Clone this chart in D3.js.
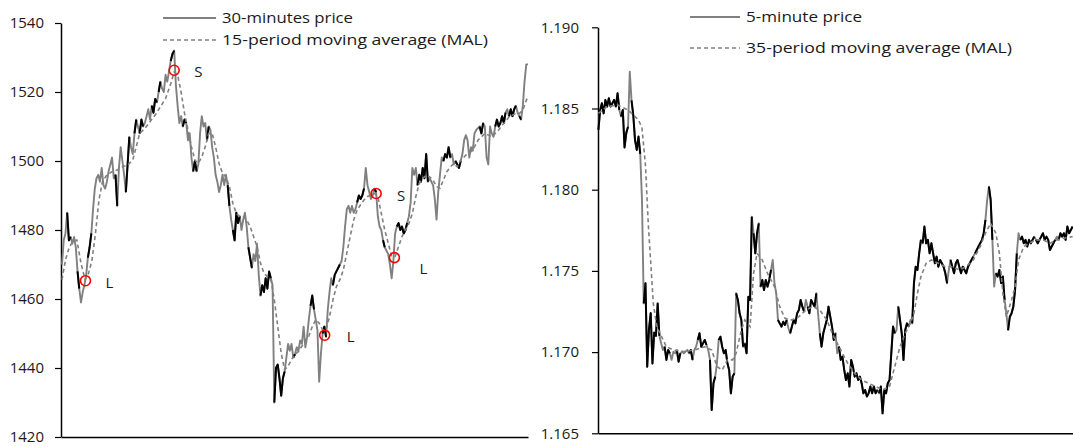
<!DOCTYPE html>
<html>
<head>
<meta charset="utf-8">
<script src="https://cdn.jsdelivr.net/npm/d3@7"></script>
<style>
  body { margin: 0; background: #fff; }
  svg text { font-family: "Open Sans", "DejaVu Sans", sans-serif; }
</style>
</head>
<body>
<svg id="chart" width="1073" height="447"></svg>
<script>
// ---- left panel data: 30-minute price and 15-period MA ----
var leftPrice = [
  1470,1477,1479,1485,1477,1478,1476,1478,1475,1468,1463,1459,1462,1464,1467,1472,1475,1479,1486,1492,
  1495,1496,1494,1498,1493,1492,1494,1497,1499,1501,1495,1496,1487,1498,1504,1500,1496,1491,1499,1507,
  1504,1502,1508,1512,1510,1508,1512,1510,1511,1513,1515,1512,1516,1514,1518,1517,1520,1523,1521,1520,
  1525,1523,1526,1529,1531,1532,1522,1516,1511,1513,1510,1512,1511,1506,1508,1501,1497,1500,1497,1499,
  1508,1513,1510,1511,1506,1510,1509,1504,1501,1496,1494,1491,1493,1496,1493,1496,1493,1487,1483,1480,
  1477,1485,1482,1484,1480,1483,1485,1481,1475,1472,1469,1473,1471,1476,1467,1461,1464,1462,1466,1463,
  1468,1466,1464,1430,1440,1441,1437,1432,1437,1439,1443,1447,1445,1447,1443,1444,1446,1445,1448,1447,
  1452,1446,1449,1454,1458,1461,1457,1454,1451,1436,1444,1450,1452,1449,1457,1462,1466,1464,1467,1468,
  1469,1470,1471,1475,1481,1486,1487,1485,1487,1485,1486,1488,1490,1489,1490,1492,1498,1493,1491,1489,
  1490,1492,1491,1484,1481,1480,1477,1475,1474,1473,1470,1466,1471,1479,1481,1482,1480,1481,1479,1480,
  1482,1484,1488,1498,1496,1498,1493,1496,1494,1498,1495,1502,1494,1495,1494,1493,1489,1483,1491,1496,
  1501,1500,1502,1501,1504,1501,1502,1499,1500,1499,1498,1500,1502,1506,1507.5,1506,1501,1504,1503,1508,
  1509,1509.5,1510,1508,1511,1510,1501,1499,1510,1508,1507,1510,1512,1510,1511,1513,1511,1514,1515,1513,
  1515,1513,1515,1516,1514,1513,1512,1516,1523,1528,1528
];
// [period, value]
var leftMA = [
  [0,1465.6],[2,1471.3],[4,1474.7],[6,1476.6],[8.6,1477.1],[11,1470.4],[13.4,1465.6],[15.4,1467.5],
  [17.4,1471.3],[19.4,1479],[21.4,1488.7],[23.4,1494],[26,1496],[29,1496.9],[32,1497.4],[35,1498.3],
  [38,1498.8],[41,1500.3],[43,1504.1],[45,1508],[48,1509.4],[51,1511.4],[54,1513.3],[57,1515.7],
  [60,1518.1],[63,1522.4],[65,1525.8],[67,1524.9],[69,1520],[71,1513.8],[73,1509],[75,1504.1],
  [77,1500.3],[79,1499.3],[81,1501.2],[83,1504.1],[85,1508],[87,1508],[89,1504.1],[91,1499.3],
  [93,1496.4],[95,1495.4],[97,1492.6],[99,1487.7],[101,1484.8],[103,1483.9],[105,1483.9],[107,1482.9],
  [109,1481],[111,1478.1],[113,1475.2],[115,1470.4],[117,1467.5],[119,1466.5],[121,1465.6],[123,1459.8],
  [125,1452],[127,1444.3],[129,1439.5],[131,1440.5],[133,1442.5],[135,1443.9],[137,1444.8],[139,1446.3],
  [141,1447.7],[143,1449.2],[145,1452],[147,1454],[149,1453],[151,1451.1],[153,1451.1],[155,1454.9],
  [157,1459.8],[159,1463.6],[161,1465.6],[163,1468.4],[165,1473.3],[167,1478.1],[169,1482.9],[171,1485.8],
  [173,1487.3],[175,1488.7],[177,1489.7],[179,1490.1],[181,1490.6],[183,1489.7],[185,1484.8],[187,1480],
  [189,1476.2],[191,1472.3],[193,1472.3],[195,1475.2],[197,1478.1],[199,1480],[201,1481.9],[203,1484.8],
  [205,1489.7],[207,1493.5],[209,1494.9],[211,1495.9],[213,1495.4],[215,1494.5],[217,1492.6],[219,1492.1],
  [221,1494.5],[223,1496.9],[225,1498.3],[227,1499.3],[229,1498.3],[231,1500.3],[233,1501.2],[235,1502.2],
  [237,1502.7],[239,1504.1],[241,1506],[243,1507],[245,1508],[247,1507.5],[249,1507],[251,1508],
  [253,1509],[255,1510.4],[257,1511.4],[259,1512.8],[261,1513.3],[263,1513.8],[265,1513.8],[267,1514.7],
  [269,1517.6],[270,1518.6]
];
// darker stretches of the price line [from, to] period
var leftDark = [[3,5],[9,10],[15,17],[31,32],[37,39],[42,43],[45,47],[52,55],[56,57],[63,65],[70,72],
  [76,78],[84,85],[96,97],[99,103],[108,110],[115,121],[123,129],[134,135],[144,146],[151,153],[157,161],
  [171,175],[181,182],[186,187],[194,200],[206,212],[221,225],[228,231],[242,244],[251,257],[259,263],[265,266]];
// trade signals
var signalPeriod = [13.6, 65, 152.2, 182, 192.6];
var signalValue = [1465.3, 1526.3, 1449.5, 1490.6, 1472];
var signalType = ["L", "S", "L", "S", "L"];
var leftTicks = [1420, 1440, 1460, 1480, 1500, 1520, 1540];

// ---- right panel data: 5-minute price and 35-period MA ----
var rightPrice = [
  1.18368,1.1849,1.18532,1.1847,1.18553,1.18512,1.18563,1.18512,1.18532,1.18553,1.18512,1.18594,1.18491,1.1845,1.18491,
  1.1826,1.1835,1.18388,1.18727,1.1855,1.1846,1.18306,1.18245,1.18327,1.1822,1.17937,1.1730,1.17424,1.1691,1.1714,
  1.1724,1.1693,1.1712,1.1710,1.1730,1.1710,1.17054,1.17013,1.17033,1.16952,1.17013,1.16993,1.16952,1.17003,1.16993,
  1.17013,1.16941,1.16993,1.17003,1.16993,1.17003,1.17013,1.16993,1.17013,1.16952,1.17013,1.17033,1.17075,1.17116,1.17033,
  1.17054,1.17075,1.17044,1.17013,1.16952,1.16644,1.16808,1.16849,1.16931,1.17075,1.17095,1.17033,1.16993,1.17013,1.16931,
  1.1689,1.16746,1.16849,1.1687,1.17362,1.17321,1.17239,1.17198,1.17033,1.17054,1.16993,1.17341,1.17321,1.17834,1.17732,
  1.17608,1.17732,1.17793,1.17403,1.17444,1.17382,1.17444,1.17403,1.17444,1.17506,1.17567,1.17424,1.17362,1.17198,1.17177,
  1.17157,1.17187,1.17167,1.17198,1.17147,1.17116,1.17157,1.17198,1.17177,1.17239,1.17259,1.17321,1.1728,1.17249,1.17321,
  1.1728,1.17239,1.17321,1.173,1.1728,1.17362,1.17239,1.17116,1.17033,1.17116,1.17157,1.17198,1.1728,1.17218,1.17157,
  1.17075,1.17116,1.16993,1.17033,1.16952,1.16972,1.1689,1.16828,1.1687,1.16788,1.16952,1.16911,1.16849,1.1687,1.16828,
  1.16849,1.16808,1.16746,1.16767,1.16726,1.16746,1.16788,1.16746,1.16788,1.16746,1.16767,1.16746,1.16788,1.16623,1.16767,
  1.16746,1.16808,1.16828,1.16993,1.17157,1.17116,1.17136,1.1728,1.17198,1.17116,1.16952,1.17136,1.17177,1.17157,1.17198,
  1.17177,1.17424,1.17526,1.17506,1.17608,1.17691,1.1767,1.17773,1.1767,1.17691,1.17608,1.1767,1.17608,1.17547,1.17588,
  1.17526,1.17567,1.17547,1.17526,1.17485,1.17424,1.17506,1.17567,1.17526,1.17485,1.17547,1.17567,1.17526,1.17485,1.17526,
  1.17506,1.17485,1.17526,1.17547,1.17567,1.17588,1.17608,1.17629,1.1765,1.1767,1.17691,1.17732,1.17814,1.17937,1.18019,
  1.17937,1.17691,1.17403,1.17485,1.17465,1.17506,1.17424,1.17465,1.17321,1.17239,1.17136,1.17218,1.17239,1.1728,1.17382,
  1.17608,1.17732,1.17691,1.17711,1.1767,1.17691,1.1765,1.17691,1.1767,1.17691,1.17711,1.17691,1.1767,1.17691,1.17711,
  1.17732,1.17691,1.17711,1.17691,1.17629,1.1765,1.1767,1.17691,1.17711,1.17691,1.17732,1.17711,1.17732,1.17691,1.17773,
  1.17732,1.17752,1.17773
];
var rightMA = [
  [0,1.1847],[5,1.18512],[11,1.18522],[17,1.18491],[21,1.1845],[23,1.1843],[25,1.1838],[27,1.1815],
  [28.6,1.1779],[30.2,1.1752],[31.5,1.1730],[33.4,1.1716],[36,1.1710],[39,1.17033],[43,1.17013],[49,1.17003],
  [55,1.17013],[61,1.17033],[65,1.17013],[68,1.16911],[71,1.1689],[74,1.16952],[77,1.16952],[79,1.16993],
  [82,1.17136],[84,1.17198],[87,1.17157],[89,1.17485],[91,1.17608],[94,1.17567],[97,1.17485],[101,1.17403],
  [104,1.1728],[107,1.17208],[111,1.17198],[115,1.17218],[119,1.17259],[123,1.1728],[127,1.17259],[131,1.17198],
  [135,1.17095],[139,1.17013],[143,1.16931],[147,1.1687],[151,1.16828],[155,1.16808],[159,1.16788],[163,1.16767],
  [167,1.16788],[170,1.16911],[173,1.17033],[176,1.17116],[179,1.17177],[181,1.17239],[183,1.17362],[185,1.17465],
  [188,1.17547],[191,1.17567],[195,1.17547],[199,1.17526],[203,1.17526],[207,1.17506],[211,1.17526],[215,1.17567],
  [219,1.1765],[222,1.17732],[225,1.17793],[228,1.17732],[230,1.17608],[232,1.17362],[234,1.17218],[237,1.17321],
  [239,1.17403],[241,1.17567],[244,1.1765],[247,1.1767],[251,1.17691],[255,1.17691],[259,1.1767],[263,1.17691],
  [267,1.17701],[272,1.17711]
];
var rightDark = [[0,12],[13,17],[19,24],[26,35],[38,41],[45,47],[52,54],[57,62],[64,67],[69,78],[79,83],
  [84,88],[89,92],[93,99],[103,108],[110,118],[120,125],[127,136],[138,160],[161,170],[172,178],[180,185],
  [186,200],[202,215],[216,222],[224,226],[228,233],[235,240],[242,250],[251,262],[264,272]];
var rightTicks = [1.165, 1.170, 1.175, 1.180, 1.185, 1.190];

// ---- styles ----
var grey = "#808080";
var labelDx = [20, 20, 22, 21, 25];
var labelDy = [2, 1, 2, 2, 11];

var svg = d3.select("#chart");

function panel(opt) {
  var g = svg.append("g");
  var x = d3.scaleLinear().domain([0, opt.price.length - 1]).range([opt.x0, opt.x1]);
  var y = d3.scaleLinear().domain(opt.yDomain).range([opt.yBottom, opt.yTop]);

  var yAxis = d3.axisLeft(y)
    .tickValues(opt.ticks)
    .tickSize(6)
    .tickSizeOuter(0)
    .tickPadding(opt.pad)
    .tickFormat(opt.fmt);
  var ya = g.append("g").attr("transform", "translate(" + opt.axisX + ",0)").call(yAxis);
  ya.select(".domain").attr("stroke", "#000").attr("stroke-width", 1.5);
  ya.selectAll(".tick line").attr("stroke", "#000").attr("stroke-width", 1.2);
  ya.selectAll(".tick text").attr("font-size", 15).attr("fill", "#1a1a1a")
    .attr("font-family", "'Open Sans', sans-serif");

  var xa = g.append("g").attr("transform", "translate(0," + opt.yBottom + ")")
    .call(d3.axisBottom(d3.scaleLinear().range([opt.axisX, opt.axisEnd])).tickValues([]).tickSizeOuter(0));
  xa.select(".domain").attr("stroke", "#000").attr("stroke-width", 1.5);

  var line = d3.line().x(function(d, i) { return x(i); }).y(function(d) { return y(d); });
  var lineXY = d3.line().x(function(d) { return x(d[0]); }).y(function(d) { return y(d[1]); });

  // price line (grey) with darker stretches
  g.append("path").attr("d", line(opt.price))
    .attr("fill", "none").attr("stroke", grey).attr("stroke-width", 1.9)
    .attr("stroke-linejoin", "round");
  opt.dark.forEach(function(r) {
    var pts = [];
    for (var i = r[0]; i <= r[1] && i < opt.price.length; i++) pts.push([i, opt.price[i]]);
    g.append("path").attr("d", lineXY(pts))
      .attr("fill", "none").attr("stroke", "#000").attr("stroke-width", 2)
      .attr("stroke-linejoin", "round");
  });

  // moving average
  g.append("path").attr("d", lineXY(opt.ma))
    .attr("fill", "none").attr("stroke", grey).attr("stroke-width", 1.6)
    .attr("stroke-dasharray", "4,3");

  // legend
  var lg = g.append("g");
  lg.append("line").attr("x1", opt.lgX0).attr("x2", opt.lgX1).attr("y1", opt.lgY[0]).attr("y2", opt.lgY[0])
    .attr("stroke", grey).attr("stroke-width", 1.8);
  lg.append("line").attr("x1", opt.lgX0).attr("x2", opt.lgX1).attr("y1", opt.lgY[1]).attr("y2", opt.lgY[1])
    .attr("stroke", grey).attr("stroke-width", 1.6).attr("stroke-dasharray", "4,3");
  opt.legend.forEach(function(t, i) {
    lg.append("text").attr("x", opt.lgX1 + 6).attr("y", opt.lgY[i]).attr("dy", "0.35em")
      .attr("font-size", 15).attr("fill", "#1a1a1a")
      .attr("textLength", opt.lgLen[i]).attr("lengthAdjust", "spacingAndGlyphs")
      .text(t);
  });

  return { g: g, x: x, y: y };
}

var left = panel({
  price: leftPrice, ma: leftMA, dark: leftDark,
  x0: 62, x1: 528, axisX: 61, axisEnd: 528,
  yDomain: [1420, 1540], yTop: 23, yBottom: 437,
  ticks: leftTicks, pad: 11, fmt: d3.format("d"),
  lgX0: 163, lgX1: 216, lgY: [18, 40], lgLen: [131, 266],
  legend: ["30-minutes price", "15-period moving average (MAL)"]
});

var right = panel({
  price: rightPrice, ma: rightMA, dark: rightDark,
  x0: 598.4, x1: 1072.6, axisX: 598, axisEnd: 1073,
  yDomain: [1.165, 1.190], yTop: 27.3, yBottom: 433.3,
  ticks: rightTicks, pad: 13, fmt: d3.format(".3f"),
  lgX0: 690, lgX1: 740, lgY: [17, 48], lgLen: [116, 266],
  legend: ["5-minute price", "35-period moving average (MAL)"]
});

// signals on the left panel
signalPeriod.forEach(function(p, i) {
  var cx = left.x(p), cy = left.y(signalValue[i]);
  left.g.append("circle").attr("cx", cx).attr("cy", cy).attr("r", 5)
    .attr("fill", "none").attr("stroke", "#ff0000").attr("stroke-width", 1.6);
  left.g.append("text").attr("x", cx + labelDx[i]).attr("y", cy + labelDy[i]).attr("dy", "0.35em")
    .attr("font-size", 15).attr("fill", "#1a1a1a").text(signalType[i]);
});
</script>
</body>
</html>
